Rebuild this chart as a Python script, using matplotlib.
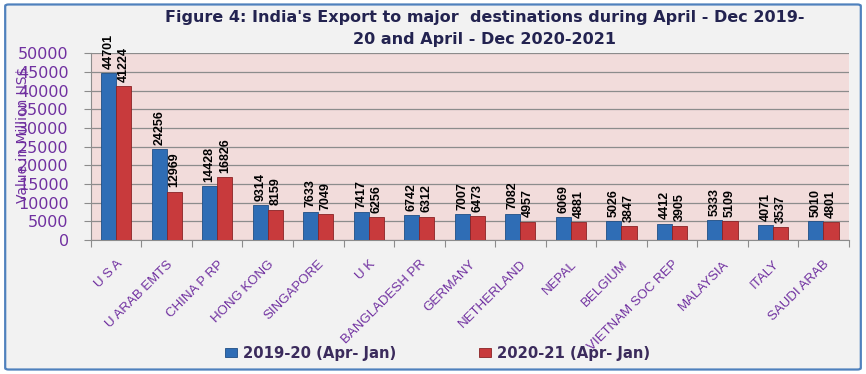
import numpy as np
import matplotlib
matplotlib.use('agg')
import matplotlib.pyplot as plt
from matplotlib.patches import FancyBboxPatch

countries = ['U S A', 'U ARAB EMTS', 'CHINA P RP', 'HONG KONG', 'SINGAPORE', 'U K',
             'BANGLADESH PR', 'GERMANY', 'NETHERLAND', 'NEPAL', 'BELGIUM',
             'VIETNAM SOC REP', 'MALAYSIA', 'ITALY', 'SAUDI ARAB']
exp_1920 = [44701, 24256, 14428, 9314, 7633, 7417, 6742, 7007, 7082, 6069, 5026, 4412, 5333, 4071, 5010]
exp_2021 = [41224, 12969, 16826, 8159, 7049, 6256, 6312, 6473, 4957, 4881, 3847, 3905, 5109, 3537, 4801]
series_names = ['2019-20 (Apr- Jan)', '2020-21 (Apr- Jan)']
yticks = [0, 5000, 10000, 15000, 20000, 25000, 30000, 35000, 40000, 45000, 50000]

PURPLE = '#7030A0'
NAVY = '#232350'
BLUE = '#2F6DB5'
RED = '#C83A3C'
narrow = ['Liberation Sans', 'DejaVu Sans']

fig = plt.figure(figsize=(8.66, 3.74), dpi=100)
fig.patch.set_facecolor('white')
# outer frame of the chart
frame = FancyBboxPatch((0.006, 0.012), 0.988, 0.976, boxstyle='round,pad=0,rounding_size=0.004',
                       transform=fig.transFigure, facecolor='#F2F2F2', edgecolor='#4F81BD', lw=1.6,
                       zorder=-5)
fig.patches.append(frame)

ax = fig.add_axes([0.105, 0.358, 0.875, 0.500])
ax.set_facecolor('#F2DCDB')

x = np.arange(len(countries))
w = 0.3
b1 = ax.bar(x - w / 2, exp_1920, w, color=BLUE, edgecolor='#1F4E85', lw=0.6, label=series_names[0], zorder=3)
b2 = ax.bar(x + w / 2, exp_2021, w, color=RED, edgecolor='#8A2325', lw=0.6, label=series_names[1], zorder=3)

for bars in (b1, b2):
    for r in bars:
        h = r.get_height()
        ax.annotate(str(int(h)), (r.get_x() + r.get_width() / 2, h), xytext=(0, 3),
                    textcoords='offset points', rotation=90, ha='center', va='bottom',
                    fontsize=9, fontweight='bold', family=narrow, color='black')

ax.set_xlim(-0.5, len(countries) - 0.5)
ax.set_ylim(0, 50000)
ax.set_yticks(yticks)
ax.set_yticklabels([str(v) for v in yticks], color=PURPLE, fontsize=11.5)
ax.yaxis.grid(True, color='#8C8C8C', lw=0.9, zorder=0)
ax.tick_params(axis='y', length=5, color='#8C8C8C', pad=11)

ax.set_xticks(np.arange(len(countries) + 1) - 0.5)
ax.set_xticklabels([])
ax.set_xticks(x, minor=True)
ax.set_xticklabels(countries, minor=True, rotation=45, ha='right', rotation_mode='anchor',
                   color=PURPLE, fontsize=9.5, family=narrow)
ax.tick_params(axis='x', which='major', length=5, color='#8C8C8C')
ax.tick_params(axis='x', which='minor', length=0, pad=13)

for s in ('top', 'right'):
    ax.spines[s].set_visible(False)
for s in ('left', 'bottom'):
    ax.spines[s].set_color('#8C8C8C')

fig.text(0.026, 0.64, 'Value in Million US$', rotation=90, color=PURPLE, fontsize=10,
         ha='center', va='center')

fig.text(0.56, 0.972, "Figure 4: India's Export to major  destinations during April - Dec 2019-\n20 and April - Dec 2020-2021",
         ha='center', va='top', fontsize=11.5, fontweight='bold', color=NAVY, linespacing=1.55)

leg = fig.legend(handles=[b1, b2], loc='center', bbox_to_anchor=(0.505, 0.056), ncol=2,
                 frameon=False, handlelength=0.8, handleheight=0.55, handletextpad=0.4,
                 columnspacing=5.6, prop={'weight': 'bold', 'size': 10.7})
for t in leg.get_texts():
    t.set_color('#3B2B5C')

fig.savefig('out.png', dpi=100, facecolor=fig.get_facecolor())
